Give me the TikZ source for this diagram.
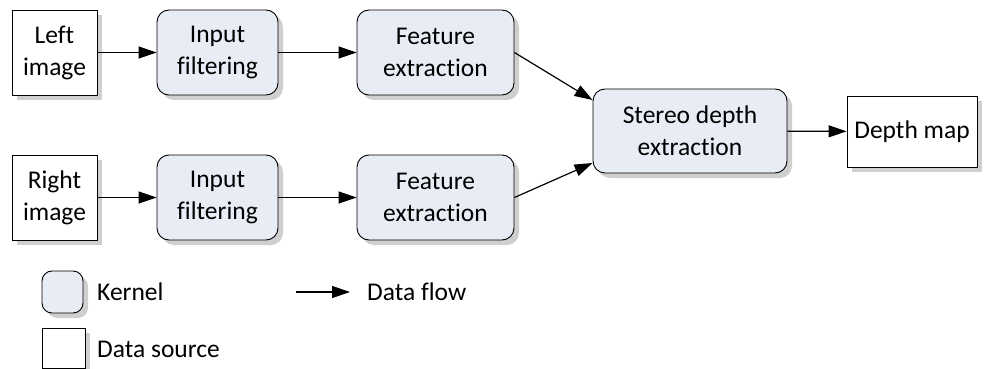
\documentclass[tikz,border=0pt]{standalone}
\usepackage{fontspec}
\setmainfont{Carlito}[Ligatures=NoCommon]
\usetikzlibrary{shadows,arrows.meta,calc}
\definecolor{kfill}{HTML}{E8ECF5}
\definecolor{shade}{HTML}{CFCFCF}
\begin{document}
\begin{tikzpicture}[x=1pt,y=-1pt,
  every node/.style={font=\fontsize{25.5}{32}\selectfont, align=center, inner sep=0pt},
  base/.style={draw=black, line width=0.9pt, drop shadow={shadow xshift=5pt, shadow yshift=-5pt, fill=shade, opacity=1}},
  kernel/.style={base, fill=kfill, rounded corners=12pt},
  source/.style={base, fill=white},
  flow/.style={line width=1.2pt, -{Triangle[length=18pt,width=12pt]}},
  lbl/.style={anchor=west}]
\useasboundingbox (0,0) rectangle (989,369);
% top row
\node[source, minimum width=85pt, minimum height=85pt] (li) at (54.5,52.5) {Left\\image};
\node[kernel, minimum width=121pt, minimum height=85pt] (if1) at (217.5,52.5) {Input\\filtering};
\node[kernel, minimum width=157pt, minimum height=85pt] (fe1) at (435.5,52.5) {Feature\\extraction};
% bottom row
\node[source, minimum width=85pt, minimum height=85pt] (ri) at (54.5,197.5) {Right\\image};
\node[kernel, minimum width=121pt, minimum height=85pt] (if2) at (217.5,197.5) {Input\\filtering};
\node[kernel, minimum width=157pt, minimum height=85pt] (fe2) at (435.5,197.5) {Feature\\extraction};
% right
\node[kernel, minimum width=194pt, minimum height=84pt] (sd) at (690,131) {Stereo depth\\extraction};
\node[source, minimum width=130pt, minimum height=71pt] (dm) at (912,131.5) {Depth map};
% connectors
\draw[flow] (li) -- (if1);
\draw[flow] (if1) -- (fe1);
\draw[flow] (ri) -- (if2);
\draw[flow] (if2) -- (fe2);
\draw[flow] (fe1.east) -- ($(sd.west)+(0,-31)$);
\draw[flow] (fe2.east) -- ($(sd.west)+(0,32)$);
\draw[flow] (sd) -- (dm);
% legend
\node[kernel, rounded corners=10pt, minimum width=41pt, minimum height=42pt] (lk) at (62.5,292) {};
\node[lbl] (lkt) at (97,292) {Kernel};
\node[source, minimum width=43pt, minimum height=40pt] (ls) at (63.5,348) {};
\node[lbl] (lst) at (97,349) {Data source};
\coordinate (fa) at (296,292);
\coordinate (fb) at (350,292);
\draw[flow] (fa) -- (fb);
\node[lbl] (lft) at (367,292) {Data flow};
\end{tikzpicture}
\end{document}
